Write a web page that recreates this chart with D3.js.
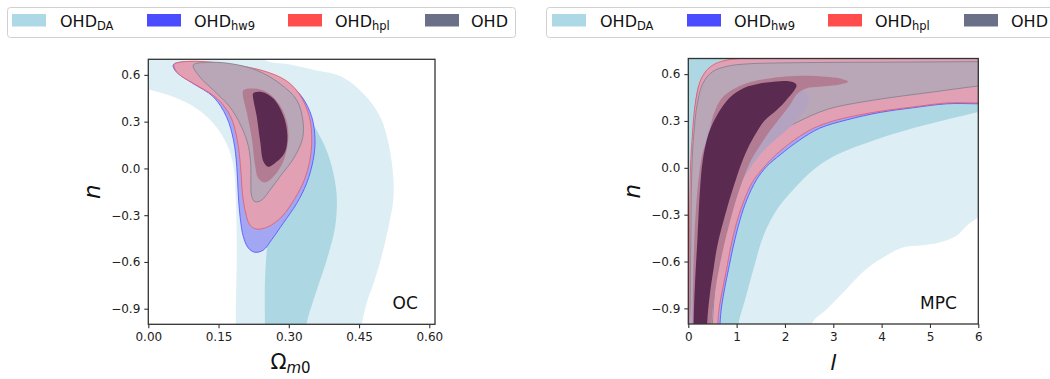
<!DOCTYPE html>
<html><head><meta charset="utf-8">
<script src="https://cdn.jsdelivr.net/npm/d3@7"></script>
<style>body{margin:0;background:#fff}svg{display:block;font-family:"DejaVu Sans",sans-serif}</style>
</head><body><svg id="c" width="1050" height="379"></svg>
<script>
// ---------------- data ----------------
const seriesMain = ["OHD","OHD","OHD","OHD"];
const seriesSub  = ["DA","hw9","hpl",""];
const legendColors = ["#add8e6","#4b4bff","#ff4d4d","#6b7089"];

const ocXTicks = [0,0.15,0.30,0.45,0.60];
const ocXLabels = ["0.00","0.15","0.30","0.45","0.60"];
const mpcXTicks = [0,1,2,3,4,5,6];
const mpcXLabels = ["0","1","2","3","4","5","6"];
const nTicks = [-0.9,-0.6,-0.3,0,0.3,0.6];
const nLabels = ["\u22120.9","\u22120.6","\u22120.3","0.0","0.3","0.6"];

// OC panel contours  [Omega_m0, n]
const oc_DA_2s = [[-0.05,0.9],[0.2,0.9],[0.245,0.70],[0.30,0.668],[0.355,0.632],[0.412,0.59],[0.459,0.48],[0.495,0.331],[0.513,0.16],[0.523,-0.053],[0.523,-0.203],[0.513,-0.374],[0.498,-0.566],[0.481,-0.737],[0.466,-0.865],[0.456,-1.0],[0.45,-1.15],[0.19,-1.15],[0.187,-1.0],[0.189,-0.523],[0.187,-0.203],[0.182,0.011],[0.167,0.16],[0.139,0.288],[0.103,0.384],[0.053,0.459],[0,0.506],[-0.05,0.53]];
const oc_DA_1s = [[0.30,0.32],[0.345,0.30],[0.367,0.203],[0.388,0.053],[0.402,-0.16],[0.399,-0.374],[0.381,-0.587],[0.36,-0.779],[0.338,-1.0],[0.335,-1.15],[0.249,-1.15],[0.249,-1.0],[0.249,-0.737],[0.253,-0.523],[0.26,-0.3],[0.27,0.0]];
const oc_hw9_2s = [[0.053,0.662],[0.061,0.677],[0.103,0.683],[0.174,0.662],[0.246,0.619],[0.295,0.555],[0.328,0.459],[0.349,0.331],[0.356,0.181],[0.352,0.053],[0.338,-0.096],[0.317,-0.224],[0.288,-0.352],[0.263,-0.459],[0.246,-0.523],[0.228,-0.538],[0.214,-0.512],[0.203,-0.438],[0.196,-0.310],[0.192,-0.160],[0.189,0.011],[0.182,0.181],[0.167,0.331],[0.139,0.459],[0.096,0.544],[0.068,0.598],[0.057,0.630]];
const oc_hpl_2s = [[0.055,0.668],[0.068,0.681],[0.103,0.687],[0.174,0.668],[0.246,0.626],[0.295,0.562],[0.324,0.470],[0.344,0.331],[0.349,0.181],[0.345,0.053],[0.333,-0.075],[0.313,-0.192],[0.285,-0.310],[0.256,-0.374],[0.231,-0.389],[0.217,-0.363],[0.208,-0.288],[0.201,-0.160],[0.197,0.011],[0.190,0.181],[0.176,0.331],[0.147,0.448],[0.103,0.534],[0.071,0.591],[0.059,0.626]];
const oc_OHD_2s = [[0.096,0.663],[0.125,0.68],[0.174,0.673],[0.231,0.630],[0.281,0.544],[0.317,0.438],[0.330,0.310],[0.330,0.203],[0.320,0.117],[0.303,0.032],[0.281,-0.053],[0.260,-0.139],[0.242,-0.203],[0.228,-0.214],[0.221,-0.181],[0.219,-0.096],[0.219,0.011],[0.214,0.139],[0.199,0.267],[0.174,0.395],[0.139,0.502],[0.110,0.587]];
const oc_hpl_1s = [[0.203,0.502],[0.224,0.513],[0.253,0.491],[0.281,0.406],[0.296,0.299],[0.299,0.192],[0.288,0.042],[0.267,-0.054],[0.249,-0.09],[0.235,-0.064],[0.228,0.021],[0.221,0.192],[0.21,0.363],[0.202,0.47]];
const oc_OHD_1s = [[0.224,0.481],[0.242,0.491],[0.267,0.449],[0.288,0.342],[0.297,0.214],[0.292,0.106],[0.274,0.042],[0.256,0.01],[0.246,0.042],[0.239,0.171],[0.231,0.342],[0.224,0.449]];

// MPC panel contours  [l, n]
const mpc_DA_2s = [[-0.3,-1.3],[-0.3,0.1],[-0.05,0.4],[0.02,0.6],[0.1,0.69],[0.25,0.75],[0.6,0.85],[6.5,0.85],[6.5,-0.25],[6.0,-0.318],[5.76,-0.371],[5.55,-0.435],[5.21,-0.477],[4.79,-0.498],[4.45,-0.509],[4.10,-0.562],[3.69,-0.647],[3.28,-0.774],[2.88,-0.9],[2.55,-1.0],[2.4,-1.3]];
const mpc_DA_1s = [[0.3,-1.3],[1.0,-1.3],[1.04,-1.0],[1.17,-0.85],[1.345,-0.653],[1.55,-0.44],[1.83,-0.269],[2.17,-0.141],[2.59,-0.013],[3.0,0.072],[3.48,0.136],[3.97,0.19],[4.66,0.255],[5.35,0.31],[6.0,0.357],[6.5,0.4],[6.5,0.85],[0.3,0.85]];
const mpc_hw9_2s = [[0.025,-1.3],[0.64,-1.3],[0.656,-1.0],[0.69,-0.885],[0.76,-0.76],[0.83,-0.653],[0.93,-0.504],[1.07,-0.333],[1.21,-0.205],[1.41,-0.077],[1.62,0.008],[1.90,0.083],[2.31,0.179],[2.72,0.254],[3.28,0.307],[3.97,0.355],[4.66,0.385],[5.35,0.41],[6.0,0.41],[6.5,0.41],[6.5,0.69],[6.0,0.692],[3.0,0.69],[1.2,0.688],[0.8,0.68],[0.5,0.65],[0.33,0.6],[0.2,0.5],[0.13,0.35],[0.085,0.15],[0.06,0.0],[0.035,-0.5],[0.028,-1.0]];
const mpc_hpl_2s = [[0.015,-1.3],[0.6,-1.3],[0.61,-1.0],[0.645,-0.885],[0.72,-0.76],[0.79,-0.653],[0.88,-0.504],[1.0,-0.35],[1.14,-0.22],[1.33,-0.09],[1.54,-0.005],[1.80,0.08],[2.2,0.18],[2.6,0.255],[3.0,0.3],[3.4,0.33],[3.97,0.362],[4.66,0.39],[5.35,0.415],[6.0,0.415],[6.5,0.415],[6.5,0.8],[2.5,0.8],[1.3,0.71],[0.8,0.69],[0.55,0.665],[0.38,0.625],[0.24,0.55],[0.14,0.40],[0.08,0.19],[0.045,0.0],[0.022,-0.5],[0.015,-1.0]];
const mpc_hw9_1s = [[0.09,-1.3],[0.5,-1.3],[0.49,-1.0],[0.55,-0.75],[0.66,-0.53],[0.8,-0.34],[0.97,-0.17],[1.2,-0.04],[1.5,0.09],[1.8,0.18],[2.1,0.26],[2.35,0.34],[2.5,0.42],[2.4,0.49],[2.0,0.53],[1.3,0.5],[0.69,0.42],[0.5,0.33],[0.3,0.1],[0.15,-0.3],[0.1,-0.7]];
const mpc_OHD_2s = [[0.035,-1.3],[0.5,-1.3],[0.50,-1.0],[0.54,-0.80],[0.59,-0.653],[0.69,-0.44],[0.83,-0.25],[1.0,-0.1],[1.28,0.037],[1.62,0.165],[1.90,0.23],[2.24,0.29],[2.88,0.375],[3.62,0.423],[4.31,0.455],[5.0,0.483],[5.97,0.523],[6.5,0.54],[6.5,0.68],[6.0,0.68],[4.5,0.677],[3.0,0.675],[2.0,0.672],[1.2,0.665],[0.8,0.65],[0.5,0.615],[0.3,0.54],[0.18,0.4],[0.11,0.2],[0.075,0.0],[0.05,-0.5],[0.037,-1.0]];
const mpc_hpl_1s = [[0.09,-1.3],[0.09,-1.0],[0.11,-0.6],[0.15,-0.3],[0.22,-0.05],[0.3,0.1],[0.41,0.19],[0.52,0.338],[0.69,0.445],[0.97,0.509],[1.31,0.551],[1.66,0.572],[2.0,0.585],[2.45,0.59],[2.86,0.583],[3.14,0.572],[3.31,0.551],[3.14,0.534],[2.72,0.519],[2.45,0.509],[2.24,0.47],[2.1,0.4],[1.9,0.32],[1.7,0.24],[1.5,0.15],[1.3,0.05],[1.1,-0.1],[0.9,-0.3],[0.7,-0.55],[0.55,-0.8],[0.48,-1.0],[0.47,-1.3]];
const mpc_OHD_1s = [[0.11,-1.3],[0.11,-1.0],[0.14,-0.73],[0.19,-0.45],[0.24,-0.15],[0.30,0.05],[0.42,0.22],[0.6,0.34],[0.86,0.45],[1.14,0.51],[1.48,0.54],[1.9,0.555],[2.14,0.551],[2.24,0.53],[2.03,0.435],[1.83,0.371],[1.57,0.3],[1.36,0.2],[1.18,0.09],[1.0,-0.06],[0.8,-0.26],[0.6,-0.5],[0.52,-0.653],[0.45,-0.8],[0.39,-1.0],[0.39,-1.3]];

// ---------------- drawing ----------------
const svg = d3.select("#c");
svg.append("rect").attr("width",1050).attr("height",379).attr("fill","#fff");

const styles = {
  DA2:{fill:"#ddeef4",stroke:"none"},
  DA1:{fill:"#add8e3",stroke:"none"},
  hw92:{fill:"#a3a7f3",stroke:"#5a5aff"},
  hpl2:{fill:"#e1a0b4",stroke:"#e6606e"},
  hw91:{fill:"#b4a3c0",stroke:"none"},
  OHD2:{fill:"#b9a7b7",stroke:"#858592"},
  hpl1:{fill:"#b27d93",stroke:"none"},
  OHD1:{fill:"#5a2a50",stroke:"none"}
};

const panels = [
  {id:"oc", x0:148.3, x1:435, y0:59.3, y1:324.3, xdom:[0,0.6122], xt:ocXTicks, xl:ocXLabels,
   layers:[[oc_DA_2s,"DA2"],[oc_DA_1s,"DA1"],[oc_hw9_2s,"hw92"],[oc_hpl_2s,"hpl2"],[oc_OHD_2s,"OHD2"],[oc_hpl_1s,"hpl1"],[oc_OHD_1s,"OHD1"]],
   tag:"OC", tagX:392.5, ylabX:100},
  {id:"mpc", x0:688.3, x1:978.3, y0:58.5, y1:324, xdom:[0,6], xt:mpcXTicks, xl:mpcXLabels,
   layers:[[mpc_DA_2s,"DA2"],[mpc_DA_1s,"DA1"],[mpc_hw9_2s,"hw92"],[mpc_hpl_2s,"hpl2"],[mpc_OHD_2s,"OHD2"],[mpc_hw9_1s,"hw91"],[mpc_hpl_1s,"hpl1"],[mpc_OHD_1s,"OHD1"]],
   tag:"MPC", tagX:920, ylabX:640}
];

const defs = svg.append("defs");
panels.forEach(p=>{
  const xs = d3.scaleLinear().domain(p.xdom).range([p.x0,p.x1]);
  const ys = d3.scaleLinear().domain([-1,0.7]).range([p.y1,p.y0]);
  defs.append("clipPath").attr("id","clip-"+p.id).append("rect")
    .attr("x",p.x0).attr("y",p.y0).attr("width",p.x1-p.x0).attr("height",p.y1-p.y0);
  const g = svg.append("g").attr("clip-path","url(#clip-"+p.id+")");
  const line = d3.line().x(d=>xs(d[0])).y(d=>ys(d[1])).curve(d3.curveCatmullRomClosed.alpha(0.5));
  p.layers.forEach(([arr,key])=>{
    const s = styles[key];
    g.append("path").attr("d",line(arr)).attr("fill",s.fill)
      .attr("stroke",s.stroke).attr("stroke-width",0.9);
  });
  // axes
  const ax = svg.append("g").attr("transform",`translate(0,${p.y1})`)
    .call(d3.axisBottom(xs).tickValues(p.xt).tickFormat((d,i)=>p.xl[i]).tickSize(4).tickPadding(4));
  const ay = svg.append("g").attr("transform",`translate(${p.x0},0)`)
    .call(d3.axisLeft(ys).tickValues(nTicks).tickFormat((d,i)=>nLabels[i]).tickSize(4).tickPadding(4));
  [ax,ay].forEach(a=>{
    a.select(".domain").remove();
    a.selectAll(".tick line").attr("stroke","#333").attr("stroke-width",1.1);
    a.selectAll(".tick text").attr("fill","#222").attr("font-size",12).attr("font-family","DejaVu Sans");
  });
  svg.append("rect").attr("x",p.x0).attr("y",p.y0).attr("width",p.x1-p.x0).attr("height",p.y1-p.y0)
    .attr("fill","none").attr("stroke","#333").attr("stroke-width",1.3);
  svg.append("text").attr("x",p.tagX).attr("y",309.3).attr("font-size",17).attr("fill","#111").text(p.tag);
  svg.append("text").attr("transform",`translate(${p.ylabX},${(p.y0+p.y1)/2}) rotate(-90)`)
    .attr("text-anchor","middle").attr("font-size",23).attr("font-style","italic").attr("fill","#111").text("n");
});

// x labels
const xl1 = svg.append("text").attr("x",290.5).attr("y",368.5).attr("text-anchor","middle").attr("fill","#111");
xl1.append("tspan").attr("font-size",21).text("\u03A9");
xl1.append("tspan").attr("font-size",15).attr("font-style","italic").attr("dy",4.5).text("m");
xl1.append("tspan").attr("font-size",15).text("0");
svg.append("text").attr("x",833.3).attr("y",370).attr("text-anchor","middle").attr("font-size",22)
  .attr("font-style","italic").attr("fill","#111").text("l");

// legends
const legends = [
  {x:7.5, w:508, patch:[12,147,288,425], text:[60,194,335,471]},
  {x:546.5, w:540, patch:[552,687,828,964], text:[600,734,875,1011]}
];
legends.forEach(L=>{
  svg.append("rect").attr("x",L.x).attr("y",7.5).attr("width",L.w).attr("height",30).attr("rx",3)
    .attr("fill","#fff").attr("stroke","#d0d0d0").attr("stroke-width",1);
  seriesMain.forEach((m,i)=>{
    svg.append("rect").attr("x",L.patch[i]).attr("y",14).attr("width",34).attr("height",12.5).attr("fill",legendColors[i]);
    const t = svg.append("text").attr("x",L.text[i]).attr("y",26.7).attr("font-size",16).attr("fill","#111");
    t.append("tspan").text(m);
    if(seriesSub[i]) t.append("tspan").attr("font-size",11.5).attr("dy",3.5).text(seriesSub[i]);
  });
});
</script></body></html>
